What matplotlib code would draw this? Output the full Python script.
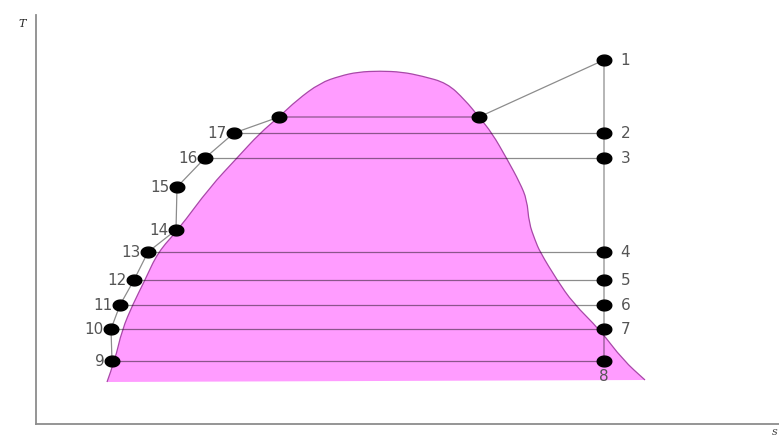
import numpy as np
import matplotlib
matplotlib.use("Agg")
import matplotlib.pyplot as plt
from matplotlib.path import Path
from matplotlib.patches import PathPatch

plt.rcParams['font.family'] = ['DejaVu Sans']

# numbered state points (s, T)
labels = ['1', '2', '3', '4', '5', '6', '7', '8', '9',
          '10', '11', '12', '13', '14', '15', '16', '17']
s_pts = [568, 568, 568, 568, 568, 568, 568, 568, 76,
         75, 84, 98, 112, 140, 141, 169, 198]
T_pts = [364, 291, 266, 172, 144, 119, 95, 63, 63,
         95, 119, 144, 172, 194, 237, 266, 291]

# saturated liquid / vapour points at the top pressure
s_sat = [243, 443]
T_sat = [307, 307]

# two-phase dome boundary
dome_s = [71, 79, 86, 97, 109, 122, 142, 174, 201, 224, 243, 261, 284, 304,
          322, 344, 366, 386, 411, 429, 443, 456, 471, 484, 491, 493, 499,
          504, 521, 537, 564, 587, 609]
dome_T = [42, 64, 94, 120, 144, 172, 194, 237, 266, 291, 307, 324, 341, 348,
          352, 353, 352, 348, 341, 324, 307, 291, 265, 241, 224, 201, 184,
          172, 144, 121, 94, 64, 44]

# constant-temperature lines: left point -> right point
pairs = [('17', '2'), ('16', '3'), ('13', '4'), ('12', '5'),
         ('11', '6'), ('10', '7'), ('9', '8')]

pt = {k: (s, t) for k, s, t in zip(labels, s_pts, T_pts)}


def smooth_path(xs, ys, close=False):
    # quadratic bezier through midpoints, using the points as control points
    p = np.column_stack([xs, ys]).astype(float)
    verts = [p[0]]
    codes = [Path.MOVETO]
    for i in range(1, len(p) - 1):
        verts += [p[i], (p[i] + p[i + 1]) / 2]
        codes += [Path.CURVE3, Path.CURVE3]
    verts.append(p[-1])
    codes.append(Path.LINETO)
    if close:
        verts += [p[0], p[0]]
        codes += [Path.LINETO, Path.CLOSEPOLY]
    return Path(verts, codes)


fig = plt.figure(figsize=(7.79, 4.36), dpi=100)
ax = fig.add_axes([36 / 779, 12 / 436, 743 / 779, 409 / 436])
ax.set_xlim(0, 743)
ax.set_ylim(0, 409)
ax.set_xticks([])
ax.set_yticks([])
for side in ['top', 'right']:
    ax.spines[side].set_visible(False)
for side in ['left', 'bottom']:
    ax.spines[side].set_color('#8c8c8c')
    ax.spines[side].set_linewidth(1.3)

# dome
ax.add_patch(PathPatch(smooth_path(dome_s, dome_T, close=True),
                       facecolor='#ff9cff', lw=0, zorder=1))
ax.add_patch(PathPatch(smooth_path(dome_s, dome_T), facecolor='none',
                       edgecolor='#a848a8', lw=0.9, zorder=2))

line_kw = dict(color='black', alpha=0.45, lw=0.9, zorder=3)

# cycle path along the left side, across the top and down the right
left_side = ['9', '10', '11', '12', '13', '14', '15', '16', '17']
right_side = ['1', '2', '3', '4', '5', '6', '7', '8']
ps = [pt[k][0] for k in left_side] + s_sat + [pt[k][0] for k in right_side]
pT = [pt[k][1] for k in left_side] + T_sat + [pt[k][1] for k in right_side]
ax.plot(ps, pT, **line_kw)

for a, b in pairs:
    ax.plot([pt[a][0], pt[b][0]], [pt[a][1], pt[b][1]], **line_kw)

# slightly wide elliptical markers
th = np.linspace(0, 2 * np.pi, 40)
ell = Path(np.column_stack([1.35 * np.cos(th), np.sin(th)]), closed=True)

ax.plot(s_pts, T_pts, ls='none', marker=ell, ms=10.5, color='black', zorder=4)
ax.plot(s_sat, T_sat, ls='none', marker=ell, ms=10.5, color='black', zorder=4)

txt_kw = dict(fontsize=11, color='#555555', zorder=5, textcoords='offset points')
for k, s, t in zip(labels, s_pts, T_pts):
    n = int(k)
    if n <= 7:
        ax.annotate(k, (s, t), xytext=(12, 0), ha='left', va='center', **txt_kw)
    elif n == 8:
        ax.annotate(k, (s, t), xytext=(0, -11), ha='center', va='center', **txt_kw)
    else:
        ax.annotate(k, (s, t), xytext=(-5, 0), ha='right', va='center', **txt_kw)

fig.text(22 / 779, 1 - 24 / 436, 'T', fontsize=8, style='italic',
         family='DejaVu Serif', color='#222222', ha='center', va='center')
fig.text(775 / 779, 1 - 432 / 436, 's', fontsize=8, style='italic',
         family='DejaVu Serif', color='#444444', ha='center', va='center')

fig.savefig('out.png', dpi=100)
